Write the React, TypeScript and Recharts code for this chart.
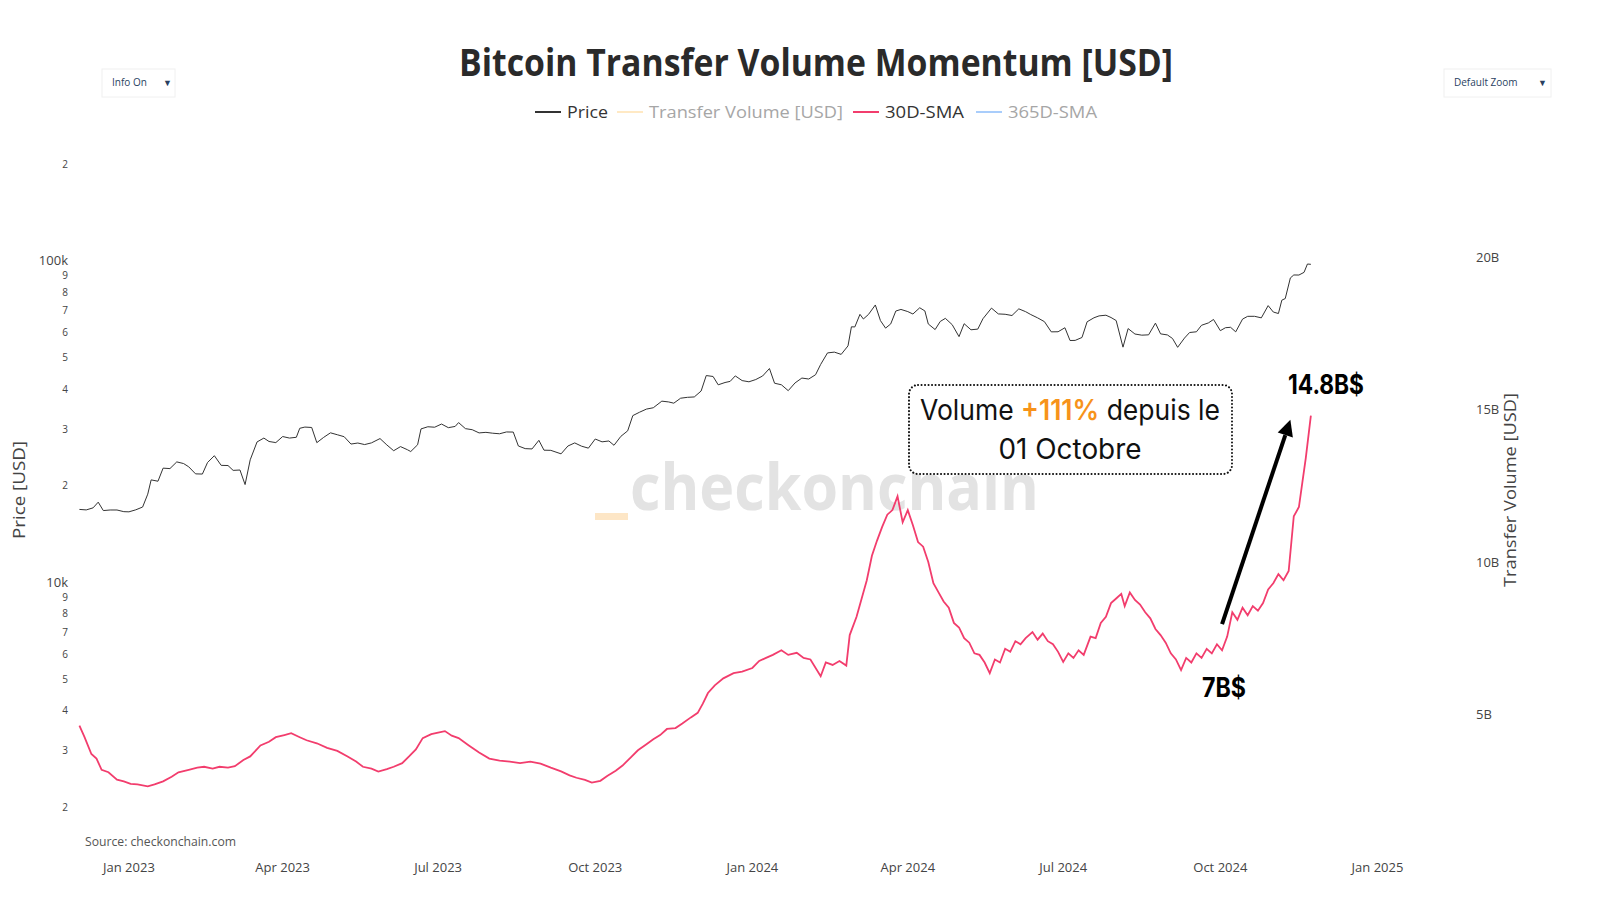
import { LineChart, Line, XAxis, YAxis, ReferenceLine } from 'recharts'

// Price [USD]
const priceDates = [
  '2022-12-03', '2022-12-07', '2022-12-11', '2022-12-14', '2022-12-17', '2022-12-21', '2022-12-25', '2022-12-29',
  '2023-01-01', '2023-01-05', '2023-01-09', '2023-01-12', '2023-01-14', '2023-01-18', '2023-01-21', '2023-01-25',
  '2023-01-29', '2023-02-02', '2023-02-05', '2023-02-09', '2023-02-13', '2023-02-16', '2023-02-20', '2023-02-24',
  '2023-02-28', '2023-03-03', '2023-03-07', '2023-03-10', '2023-03-13', '2023-03-17', '2023-03-21', '2023-03-24',
  '2023-03-28', '2023-04-01', '2023-04-05', '2023-04-09', '2023-04-11', '2023-04-14', '2023-04-18', '2023-04-21',
  '2023-04-25', '2023-04-29', '2023-05-03', '2023-05-07', '2023-05-11', '2023-05-15', '2023-05-19', '2023-05-23',
  '2023-05-28', '2023-06-01', '2023-06-05', '2023-06-09', '2023-06-13', '2023-06-15', '2023-06-19', '2023-06-21',
  '2023-06-25', '2023-06-29', '2023-07-03', '2023-07-07', '2023-07-11', '2023-07-13', '2023-07-17', '2023-07-21',
  '2023-07-25', '2023-07-29', '2023-08-02', '2023-08-06', '2023-08-10', '2023-08-14', '2023-08-17', '2023-08-21',
  '2023-08-25', '2023-08-29', '2023-09-01', '2023-09-05', '2023-09-11', '2023-09-15', '2023-09-19', '2023-09-23',
  '2023-09-27', '2023-10-01', '2023-10-05', '2023-10-09', '2023-10-12', '2023-10-16', '2023-10-20', '2023-10-23',
  '2023-10-27', '2023-10-31', '2023-11-04', '2023-11-09', '2023-11-13', '2023-11-16', '2023-11-20', '2023-11-24',
  '2023-11-28', '2023-12-02', '2023-12-05', '2023-12-09', '2023-12-12', '2023-12-16', '2023-12-19', '2023-12-22',
  '2023-12-26', '2023-12-30', '2024-01-03', '2024-01-07', '2024-01-11', '2024-01-14', '2024-01-18', '2024-01-22',
  '2024-01-26', '2024-01-30', '2024-02-03', '2024-02-07', '2024-02-10', '2024-02-14', '2024-02-18', '2024-02-22',
  '2024-02-26', '2024-02-28', '2024-03-01', '2024-03-04', '2024-03-06', '2024-03-09', '2024-03-13', '2024-03-16',
  '2024-03-19', '2024-03-22', '2024-03-25', '2024-03-28', '2024-04-01', '2024-04-04', '2024-04-08', '2024-04-11',
  '2024-04-13', '2024-04-17', '2024-04-20', '2024-04-23', '2024-04-27', '2024-05-01', '2024-05-04', '2024-05-08',
  '2024-05-12', '2024-05-15', '2024-05-20', '2024-05-24', '2024-05-28', '2024-06-01', '2024-06-05', '2024-06-09',
  '2024-06-12', '2024-06-16', '2024-06-20', '2024-06-24', '2024-06-28', '2024-07-02', '2024-07-05', '2024-07-08',
  '2024-07-12', '2024-07-15', '2024-07-19', '2024-07-22', '2024-07-26', '2024-07-29', '2024-08-01', '2024-08-05',
  '2024-08-08', '2024-08-12', '2024-08-16', '2024-08-20', '2024-08-24', '2024-08-27', '2024-08-31', '2024-09-03',
  '2024-09-06', '2024-09-10', '2024-09-13', '2024-09-17', '2024-09-20', '2024-09-24', '2024-09-27', '2024-10-01',
  '2024-10-04', '2024-10-07', '2024-10-10', '2024-10-14', '2024-10-17', '2024-10-21', '2024-10-25', '2024-10-29',
  '2024-11-01', '2024-11-04', '2024-11-06', '2024-11-08', '2024-11-11', '2024-11-13', '2024-11-16', '2024-11-19',
  '2024-11-21', '2024-11-23',
]
const priceValues = [
  16900, 16840, 17090, 17800, 16760, 16830, 16830, 16630,
  16610, 16850, 17190, 18850, 20880, 20680, 22710, 22640,
  23750, 23470, 22930, 21800, 21770, 23640, 24830, 23170,
  23140, 22350, 22410, 20190, 24110, 27400, 28170, 27490,
  27270, 28480, 28170, 28330, 30210, 30480, 30390, 27260,
  28310, 29250, 28850, 28450, 26990, 27190, 26890, 27220,
  28070, 26820, 25730, 26500, 25920, 25580, 26850, 30080,
  30550, 30450, 31150, 30350, 30620, 31470, 30140, 29910,
  29230, 29350, 29170, 29050, 29430, 29410, 26620, 26120,
  26060, 27720, 25830, 25800, 25160, 26610, 27210, 26580,
  26210, 27980, 27420, 27590, 26750, 28520, 29670, 33090,
  33910, 34670, 35000, 36700, 36490, 36170, 37480, 37720,
  37820, 39460, 44080, 43790, 41250, 41940, 42280, 43980,
  42520, 42150, 42840, 43940, 46360, 41730, 41260, 39560,
  41820, 43300, 43000, 44340, 47750, 51840, 52140, 51300,
  54520, 62500, 62440, 68330, 66100, 68300, 73080, 65320,
  61910, 63800, 69980, 70780, 69700, 68500, 71630, 70030,
  63780, 61280, 64940, 66400, 63460, 58250, 63900, 61180,
  61480, 66210, 71450, 68550, 68370, 67760, 71080, 69650,
  68240, 66640, 64850, 60280, 60320, 62080, 56660, 56700,
  57900, 64790, 66670, 67590, 67910, 66800, 65360, 54020,
  61710, 59350, 58870, 59010, 64160, 59420, 58970, 57480,
  53960, 57650, 60000, 60310, 63200, 64260, 65880, 60800,
  62100, 62280, 60280, 66050, 67370, 67380, 66640, 72740,
  69480, 68740, 75640, 76510, 88700, 90590, 90550, 92310,
  98000, 97780,
]

// Transfer volume 30D-SMA, billions USD
const smaDates = [
  '2022-12-03', '2022-12-06', '2022-12-10', '2022-12-13', '2022-12-16', '2022-12-20', '2022-12-25', '2022-12-29',
  '2023-01-02', '2023-01-06', '2023-01-12', '2023-01-16', '2023-01-21', '2023-01-26', '2023-01-30', '2023-02-05',
  '2023-02-10', '2023-02-14', '2023-02-19', '2023-02-23', '2023-02-28', '2023-03-04', '2023-03-09', '2023-03-13',
  '2023-03-19', '2023-03-24', '2023-03-28', '2023-04-02', '2023-04-06', '2023-04-11', '2023-04-15', '2023-04-21',
  '2023-04-27', '2023-05-03', '2023-05-09', '2023-05-14', '2023-05-18', '2023-05-23', '2023-05-27', '2023-06-01',
  '2023-06-05', '2023-06-10', '2023-06-14', '2023-06-18', '2023-06-22', '2023-06-27', '2023-07-01', '2023-07-05',
  '2023-07-09', '2023-07-13', '2023-07-19', '2023-07-25', '2023-07-31', '2023-08-06', '2023-08-12', '2023-08-18',
  '2023-08-24', '2023-08-30', '2023-09-05', '2023-09-11', '2023-09-16', '2023-09-20', '2023-09-25', '2023-09-29',
  '2023-10-04', '2023-10-08', '2023-10-13', '2023-10-17', '2023-10-22', '2023-10-26', '2023-10-31', '2023-11-04',
  '2023-11-08', '2023-11-12', '2023-11-17', '2023-11-21', '2023-11-26', '2023-11-30', '2023-12-03', '2023-12-06',
  '2023-12-10', '2023-12-15', '2023-12-21', '2023-12-26', '2024-01-01', '2024-01-05', '2024-01-09', '2024-01-13',
  '2024-01-18', '2024-01-22', '2024-01-27', '2024-01-31', '2024-02-04', '2024-02-10', '2024-02-13', '2024-02-17',
  '2024-02-21', '2024-02-25', '2024-02-27', '2024-03-02', '2024-03-05', '2024-03-08', '2024-03-11', '2024-03-14',
  '2024-03-17', '2024-03-20', '2024-03-23', '2024-03-26', '2024-03-29', '2024-04-01', '2024-04-04', '2024-04-07',
  '2024-04-10', '2024-04-13', '2024-04-16', '2024-04-19', '2024-04-22', '2024-04-25', '2024-04-28', '2024-05-01',
  '2024-05-04', '2024-05-07', '2024-05-10', '2024-05-13', '2024-05-16', '2024-05-19', '2024-05-22', '2024-05-25',
  '2024-05-28', '2024-05-31', '2024-06-03', '2024-06-06', '2024-06-09', '2024-06-13', '2024-06-16', '2024-06-19',
  '2024-06-22', '2024-06-25', '2024-06-28', '2024-07-01', '2024-07-04', '2024-07-07', '2024-07-10', '2024-07-13',
  '2024-07-17', '2024-07-20', '2024-07-23', '2024-07-26', '2024-07-29', '2024-08-01', '2024-08-04', '2024-08-06',
  '2024-08-09', '2024-08-12', '2024-08-15', '2024-08-18', '2024-08-21', '2024-08-24', '2024-08-27', '2024-08-30',
  '2024-09-02', '2024-09-05', '2024-09-08', '2024-09-11', '2024-09-14', '2024-09-17', '2024-09-20', '2024-09-23',
  '2024-09-26', '2024-09-29', '2024-10-02', '2024-10-05', '2024-10-08', '2024-10-11', '2024-10-14', '2024-10-17',
  '2024-10-20', '2024-10-23', '2024-10-26', '2024-10-29', '2024-11-01', '2024-11-04', '2024-11-07', '2024-11-10',
  '2024-11-13', '2024-11-16', '2024-11-18', '2024-11-20', '2024-11-23',
]
const smaValues = [
  4.63, 4.25, 3.7, 3.55, 3.18, 3.1, 2.86, 2.8,
  2.72, 2.7, 2.64, 2.7, 2.8, 2.95, 3.1, 3.18,
  3.25, 3.28, 3.22, 3.28, 3.25, 3.3, 3.5, 3.62,
  3.98, 4.1, 4.25, 4.32, 4.38, 4.25, 4.15, 4.05,
  3.9, 3.8, 3.62, 3.45, 3.28, 3.22, 3.12, 3.2,
  3.28, 3.4, 3.62, 3.85, 4.22, 4.35, 4.4, 4.45,
  4.3, 4.22, 3.98, 3.75, 3.55, 3.48, 3.45, 3.4,
  3.45, 3.38, 3.25, 3.13, 3.0, 2.92, 2.85, 2.76,
  2.82, 2.98, 3.15, 3.32, 3.6, 3.82, 4.02, 4.18,
  4.32, 4.52, 4.55, 4.7, 4.9, 5.05, 5.35, 5.7,
  5.95, 6.18, 6.35, 6.4, 6.52, 6.75, 6.85, 6.95,
  7.1, 6.95, 7.02, 6.85, 6.8, 6.25, 6.7, 6.62,
  6.75, 6.6, 7.6, 8.2, 8.8, 9.4, 10.2, 10.7,
  11.15, 11.55, 11.7, 12.15, 11.3, 11.7, 11.2, 10.65,
  10.5, 10.0, 9.3, 9.0, 8.7, 8.5, 8.0, 7.85,
  7.5, 7.35, 7.0, 6.95, 6.7, 6.35, 6.8, 6.7,
  7.15, 7.05, 7.4, 7.3, 7.5, 7.7, 7.45, 7.65,
  7.4, 7.3, 7.05, 6.72, 7.0, 6.85, 7.1, 6.95,
  7.55, 7.5, 8.0, 8.2, 8.65, 8.8, 8.95, 8.55,
  9.0, 8.75, 8.6, 8.35, 8.15, 7.8, 7.6, 7.35,
  7.0, 6.8, 6.45, 6.85, 6.7, 7.0, 6.85, 7.15,
  7.0, 7.3, 7.1, 7.55, 8.35, 8.1, 8.5, 8.25,
  8.55, 8.4, 8.65, 9.1, 9.3, 9.6, 9.4, 9.7,
  11.5, 11.8, 12.6, 13.4, 14.8,
]

const xTickDates = ['2023-01-01', '2023-04-01', '2023-07-01', '2023-10-01', '2024-01-01', '2024-04-01', '2024-07-01', '2024-10-01', '2025-01-01']
const priceTicks = [2000, 3000, 4000, 5000, 6000, 7000, 8000, 9000, 10000, 20000, 30000, 40000, 50000, 60000, 70000, 80000, 90000, 100000, 200000]
const volumeTicks = [5, 10, 15, 20]

const legendItems = [
  { name: 'Price', color: '#333333', hidden: false, x: 535, w: 41 },
  { name: 'Transfer Volume [USD]', color: '#ffe9c4', hidden: true, x: 617, w: 194 },
  { name: '30D-SMA', color: '#f23d6d', hidden: false, x: 853, w: 79 },
  { name: '365D-SMA', color: '#a9cdfb', hidden: true, x: 976, w: 89 },
]

const arrowFrom = { date: '2024-10-02', value: 7.96 }
const arrowTo = { date: '2024-11-11', value: 14.66 }

const MONTHS = ['Jan', 'Feb', 'Mar', 'Apr', 'May', 'Jun', 'Jul', 'Aug', 'Sep', 'Oct', 'Nov', 'Dec']
const toTs = (d: string) => Date.parse(d + 'T00:00:00Z')

const priceData = priceDates.map((d, i) => ({ t: toTs(d), price: priceValues[i] }))
const smaData = smaDates.map((d, i) => ({ t: toTs(d), sma: smaValues[i] }))

const fmtDate = (t: number) => {
  const d = new Date(t)
  return `${MONTHS[d.getUTCMonth()]} ${d.getUTCFullYear()}`
}

const PriceTick = ({ x, y, payload }: any) => {
  const v = payload.value
  const major = v === 100000 || v === 10000
  const label = major ? `${v / 1000}k` : String(Math.round(v / Math.pow(10, Math.floor(Math.log10(v)))))
  return (
    <text x={x} y={y} dy={major ? 4 : 3.5} textAnchor="end" fontSize={major ? 13 : 10} fill="#444" fontFamily="Open Sans">
      {label}
    </text>
  )
}

const ArrowShape = ({ x1, y1, x2, y2 }: any) => {
  const ang = Math.atan2(y2 - y1, x2 - x1)
  const len = 16
  const half = 8
  const bx = x2 - len * Math.cos(ang)
  const by = y2 - len * Math.sin(ang)
  const px = -Math.sin(ang) * half
  const py = Math.cos(ang) * half
  return (
    <g>
      <line x1={x1} y1={y1} x2={bx} y2={by} stroke="#000" strokeWidth={4} />
      <polygon points={`${x2},${y2} ${bx + px},${by + py} ${bx - px},${by - py}`} fill="#000" />
    </g>
  )
}

export default function App() {
  return (
    <div style={{ position: 'relative', width: 1600, height: 900, background: '#fff', overflow: 'hidden' }}>
      <style>{`body{margin:0}`}</style>

      {/* watermark sits under the lines */}
      <svg width={1600} height={900} style={{ position: 'absolute', left: 0, top: 0 }}>
        <rect x={595} y={513} width={33} height={7} fill="#fde6c6" />
        <text x={630} y={510} fontSize={64} fontWeight={700} fill="#e3e3e3" fontFamily="Open Sans" textLength={409} lengthAdjust="spacingAndGlyphs">
          checkonchain
        </text>
      </svg>

      <LineChart width={1600} height={900} margin={{ top: 140, right: 0, bottom: 0, left: 0 }}>
        <XAxis
          dataKey="t"
          type="number"
          scale="time"
          domain={[toTs('2022-12-01'), toTs('2025-02-23')]}
          allowDataOverflow
          ticks={xTickDates.map(toTs)}
          tickFormatter={fmtDate}
          interval={0}
          height={50}
          tickMargin={7}
          axisLine={false}
          tickLine={false}
          tick={{ fontSize: 13, fill: '#444', fontFamily: 'Open Sans' }}
        />
        <YAxis
          yAxisId="price"
          scale="log"
          domain={[1474, 238200]}
          allowDataOverflow
          ticks={priceTicks}
          interval={0}
          tick={<PriceTick />}
          width={76}
          axisLine={false}
          tickLine={false}
        />
        <YAxis
          yAxisId="vol"
          orientation="right"
          domain={[0.55, 23.84]}
          allowDataOverflow
          ticks={volumeTicks}
          interval={0}
          tickFormatter={(v: number) => `${v}B`}
          width={132}
          axisLine={false}
          tickLine={false}
          tick={{ fontSize: 13, fill: '#444', fontFamily: 'Open Sans', textAnchor: 'start' }}
        />
        <Line
          data={priceData}
          yAxisId="price"
          dataKey="price"
          stroke="#333"
          strokeWidth={1}
          dot={false}
          isAnimationActive={false}
        />
        <Line
          data={smaData}
          yAxisId="vol"
          dataKey="sma"
          stroke="#f23d6d"
          strokeWidth={1.8}
          dot={false}
          isAnimationActive={false}
        />
        <ReferenceLine
          yAxisId="vol"
          segment={[
            { x: toTs(arrowFrom.date), y: arrowFrom.value },
            { x: toTs(arrowTo.date), y: arrowTo.value },
          ]}
          ifOverflow="visible"
          shape={<ArrowShape />}
        />
      </LineChart>

      {/* titles, legend, notes */}
      <svg width={1600} height={900} style={{ position: 'absolute', left: 0, top: 0, pointerEvents: 'none' }} fontFamily="Open Sans">
        <text x={816} y={76} textAnchor="middle" fontSize={37} fontWeight={700} fill="#2a2a2a" textLength={714} lengthAdjust="spacingAndGlyphs">
          Bitcoin Transfer Volume Momentum [USD]
        </text>

        {legendItems.map(item => (
          <g key={item.name}>
            <line x1={item.x} x2={item.x + 26} y1={112} y2={112} stroke={item.color} strokeWidth={2} />
            <text
              x={item.x + 32}
              y={118}
              fontSize={17}
              fill={item.hidden ? '#a6a6a6' : '#333'}
              textLength={item.w}
              lengthAdjust="spacingAndGlyphs"
            >
              {item.name}
            </text>
          </g>
        ))}

        <rect x={102} y={69} width={73} height={28} fill="#fff" stroke="#f0f0f0" />
        <text x={112} y={86} fontSize={10} fill="#2a3f5f">Info On</text>
        <text x={163} y={86} fontSize={9} fill="#2a3f5f">▼</text>
        <rect x={1444} y={69} width={107} height={28} fill="#fff" stroke="#f0f0f0" />
        <text x={1454} y={86} fontSize={10} fill="#2a3f5f">Default Zoom</text>
        <text x={1538} y={86} fontSize={9} fill="#2a3f5f">▼</text>

        <text transform="translate(25,490) rotate(-90)" textAnchor="middle" fontSize={17} fill="#444" textLength={98} lengthAdjust="spacingAndGlyphs">
          Price [USD]
        </text>
        <text transform="translate(1516,490) rotate(-90)" textAnchor="middle" fontSize={17} fill="#444" textLength={194} lengthAdjust="spacingAndGlyphs">
          Transfer Volume [USD]
        </text>

        <text x={85} y={846} fontSize={12} fill="#555" textLength={151} lengthAdjust="spacingAndGlyphs">
          Source: checkonchain.com
        </text>

        <rect x={909} y={385} width={323} height={89} rx={9} fill="#fff" stroke="#111" strokeWidth={2} strokeDasharray="0.1 3.4" strokeLinecap="round" />
        <text x={1070} y={420} textAnchor="middle" fontSize={28} fill="#111" fontFamily="Inter" textLength={300} lengthAdjust="spacingAndGlyphs">
          Volume <tspan fill="#f7931a" fontWeight={600}>+111%</tspan> depuis le
        </text>
        <text x={1070} y={459} textAnchor="middle" fontSize={28} fill="#111" fontFamily="Inter" textLength={143} lengthAdjust="spacingAndGlyphs">
          01 Octobre
        </text>

        <text x={1326} y={394} textAnchor="middle" fontSize={27} fontWeight={700} fill="#000" fontFamily="Inter" textLength={76} lengthAdjust="spacingAndGlyphs">
          14.8B$
        </text>
        <text x={1224} y={697} textAnchor="middle" fontSize={27} fontWeight={700} fill="#000" fontFamily="Inter" textLength={44} lengthAdjust="spacingAndGlyphs">
          7B$
        </text>
      </svg>
    </div>
  )
}
